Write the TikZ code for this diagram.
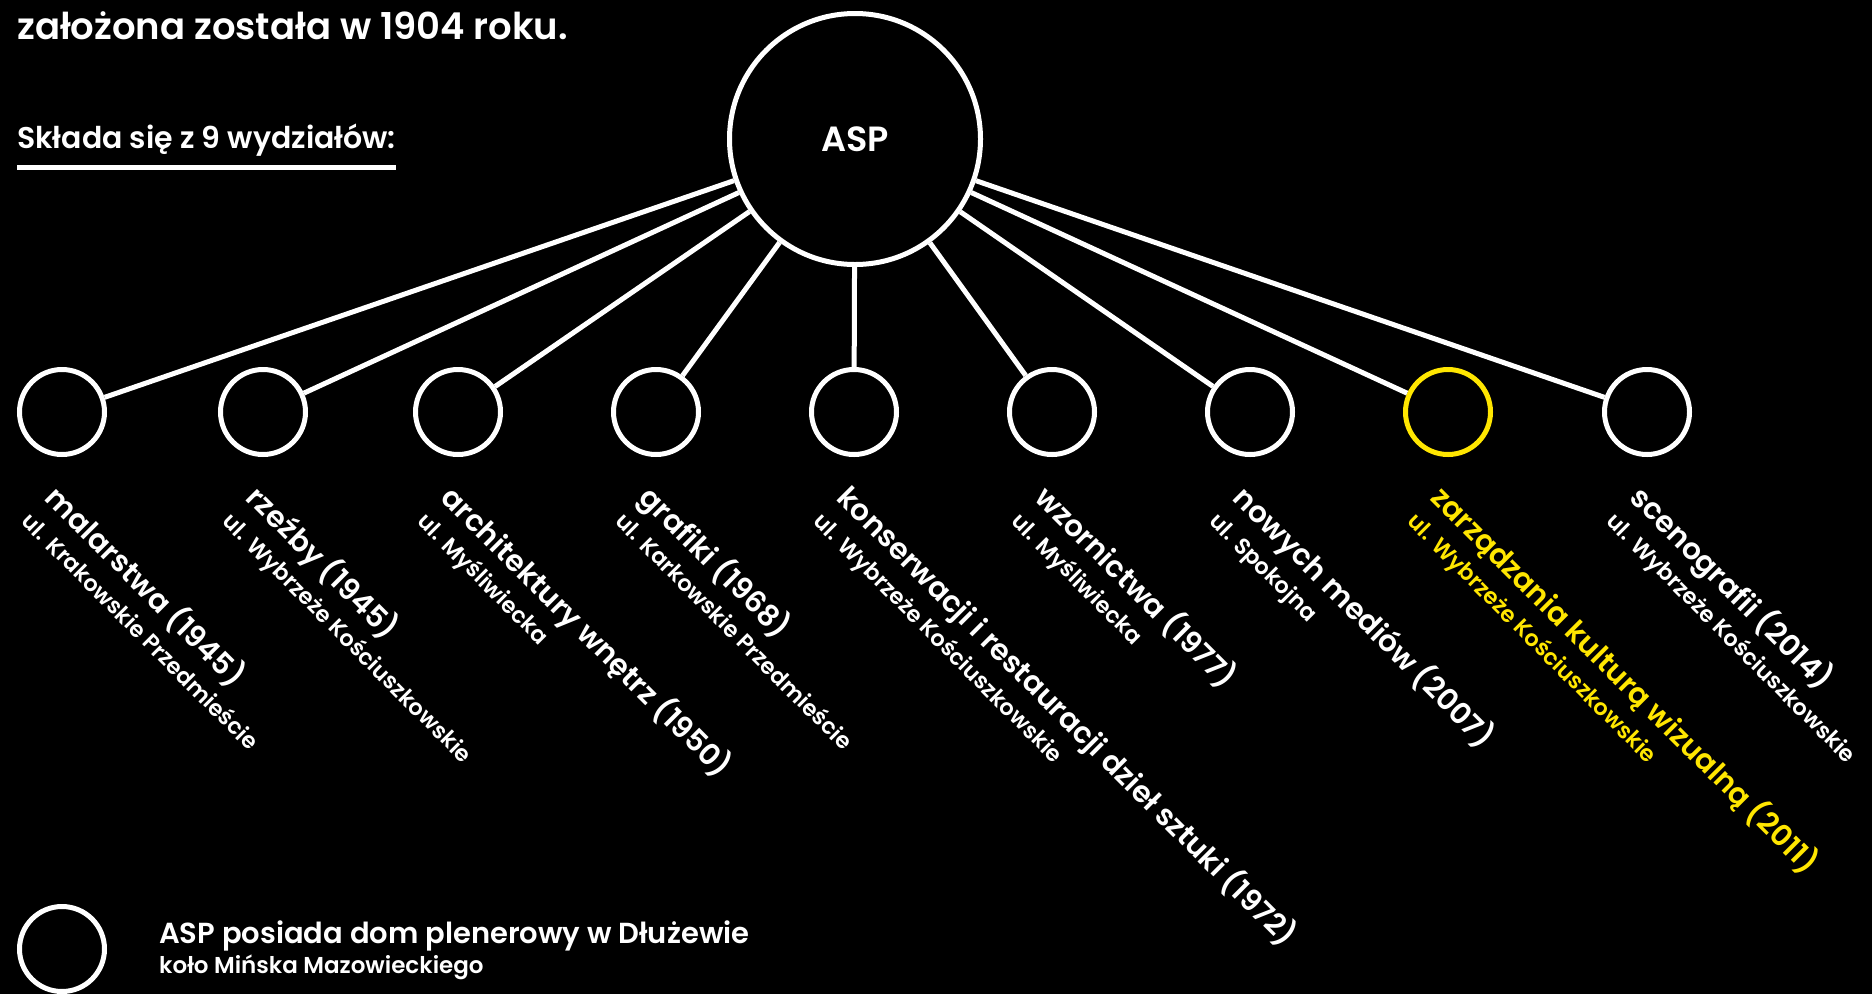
\documentclass[tikz,border=0pt]{standalone}
\usepackage{fontspec}
\setmainfont{Poppins}[UprightFont=* SemiBold, BoldFont=* Bold]
\usetikzlibrary{positioning}
\definecolor{aspyellow}{RGB}{255,230,0}

\begin{document}
\begin{tikzpicture}[x=1pt, y=-1pt,
  every dept/.style={circle, draw=white, line width=5pt, minimum size=85pt, inner sep=0pt},
  dept 8/.style={draw=aspyellow},
  dept text/.style={text=white, rotate=-45, anchor=north west, align=left, inner sep=0pt,
    font=\fontsize{22.5}{33}\selectfont},
  dept text 8/.style={text=aspyellow},
  link/.style={draw=white, line width=5pt},
  plain text/.style={text=white, anchor=base west, inner sep=0pt}]

\fill [black] (0,0) rectangle (1872,994);
\useasboundingbox (0,0) rectangle (1872,994);

\node [plain text, font=\fontsize{37}{44}\selectfont] (title) at (17,39) {założona została w 1904 roku.};
\node [plain text, font=\fontsize{30}{36}\selectfont] (sklad) at (17,148) {Składa się z 9 wydziałów:};
\draw [link] (sklad.south west |- 0,167) -- (sklad.south east |- 0,167);

\node [circle, draw=white, line width=5pt, minimum size=251pt, inner sep=0pt, text=white,
  font=\fontsize{35}{40}\selectfont] (asp) at (855,139) {ASP};

\foreach \x [count=\i] in {62,263,458,656,854,1052,1250,1448,1647}
  \node [every dept/.try, dept \i/.try] (dept-\i) at (\x,412) {};

% lines

\foreach \i in {1,...,9}
  \draw [link] (asp) -- (dept-\i);

\foreach \x/\n/\u [count=\i] in {
    62/malarstwa (1945)/ul. Krakowskie Przedmieście,
    263/rzeźby (1945)/ul. Wybrzeże Kościuszkowskie,
    458/architektury wnętrz (1950)/ul. Myśliwiecka,
    656/grafiki (1968)/ul. Karkowskie Przedmieście,
    854/konserwacji i restauracji dzieł sztuki (1972)/ul. Wybrzeże Kościuszkowskie,
    1052/wzornictwa (1977)/ul. Myśliwiecka,
    1250/nowych mediów (2007)/ul. Spokojna,
    1448/zarządzania kulturą wizualną (2011)/ul. Wybrzeże Kościuszkowskie,
    1647/scenografii (2014)/ul. Wybrzeże Kościuszkowskie}
  \node [dept text, dept text \i/.try] (opis-\i) at (\x+1,480)
    {{\fontsize{29.5}{33}\selectfont \n}\\\u};

\node [every dept/.try] (plener) at (62,949) {};
\node [plain text, font=\fontsize{29}{34}\selectfont] (plener-opis) at (159,943)
  {ASP posiada dom plenerowy w Dłużewie};
\node [plain text, font=\fontsize{23}{27}\selectfont] (plener-miejsce) at (159,973)
  {koło Mińska Mazowieckiego};
\end{tikzpicture}
\end{document}
